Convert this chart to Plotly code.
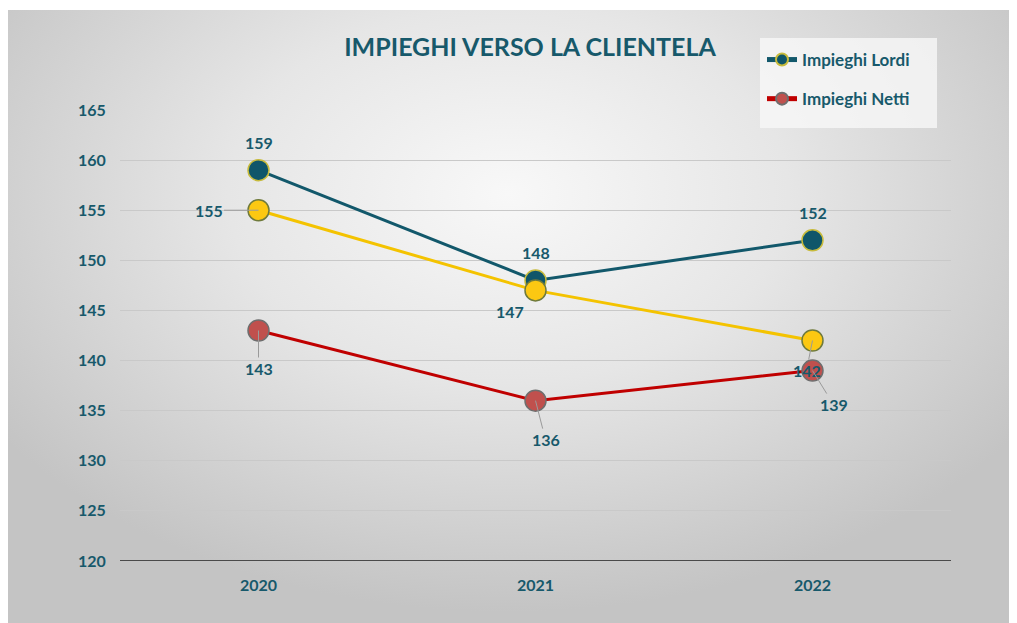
import base64
import plotly.graph_objects as go

# ---------------- data ----------------
years = ["2020", "2021", "2022"]
lordi = [159, 148, 152]
third = [155, 147, 142]
netti = [143, 136, 139]
y_ticks = [120, 125, 130, 135, 140, 145, 150, 155, 160, 165]
title_text = "IMPIEGHI VERSO LA CLIENTELA"

# ---------------- style ----------------
OFF = 8  # page body margin in the browser
W, H = 1017 - OFF, 623 - OFF
L, T = 120 - OFF, 110 - OFF
R = W - (951 - OFF)
B = H - (561 - OFF)
TEAL = "#17596b"
FONT = "Lato"

fig = go.Figure()

fig.add_trace(go.Scatter(
    x=years, y=lordi, name="Impieghi Lordi", mode="lines+markers",
    line=dict(color="#12586b", width=3),
    marker=dict(size=21, color="#0f566a", line=dict(color="#c8bb3c", width=1.5)),
    legendgroup="a"))
fig.add_trace(go.Scatter(
    x=years, y=third, name="", mode="lines+markers", showlegend=False,
    line=dict(color="#f4c300", width=3),
    marker=dict(size=21, color="#fcc812", line=dict(color="#6f7a3c", width=1.5))))
fig.add_trace(go.Scatter(
    x=years, y=netti, name="Impieghi Netti", mode="lines+markers",
    line=dict(color="#c00000", width=3),
    marker=dict(size=21, color="#c0504d", line=dict(color="#6e6e6e", width=1.5)),
    legendgroup="b"))

lab_font = dict(family=FONT, size=16, color=TEAL, weight="bold")

# labels: Lordi above
for i, yv in enumerate(lordi):
    fig.add_annotation(x=i, y=yv, text=str(yv), showarrow=False, yshift=28, font=lab_font)

# third series labels
third_off = [(-50, 0, True), (-26, 21, False), (-6, 30, True)]
for i, (yv, (ax, ay, arr)) in enumerate(zip(third, third_off)):
    if arr:
        fig.add_annotation(x=i, y=yv, text=str(yv), showarrow=True, ax=ax, ay=ay,
                           arrowhead=0, arrowwidth=1, arrowcolor="#9a9a9a", font=lab_font)
    else:
        fig.add_annotation(x=i, y=yv, text=str(yv), showarrow=False,
                           xshift=ax, yshift=-ay, font=lab_font)

netti_off = [(0, 38), (10, 39), (21, 34)]
for i, (yv, (ax, ay)) in enumerate(zip(netti, netti_off)):
    fig.add_annotation(x=i, y=yv, text=str(yv), showarrow=True, ax=ax, ay=ay,
                       arrowhead=0, arrowwidth=1, arrowcolor="#9a9a9a", font=lab_font)

# gradient background panel (svg)
svg = """<svg xmlns='http://www.w3.org/2000/svg' width='1004' height='613' viewBox='0 0 1004 613' preserveAspectRatio='none'>
<defs><radialGradient id='g' cx='0.5' cy='0.3' r='0.62' gradientTransform='translate(0.5 0.3) scale(1 1.1) translate(-0.5 -0.3)'>
<stop offset='0' stop-color='#f8f8f8'/><stop offset='0.45' stop-color='#e6e6e6'/><stop offset='1' stop-color='#c4c4c4'/></radialGradient></defs>
<rect width='1004' height='613' fill='url(#g)'/></svg>"""
src = "data:image/svg+xml;base64," + base64.b64encode(svg.encode()).decode()
pw, ph = W - L - R, H - T - B
px0, py0, px1, py1 = 6 - OFF, 10 - OFF, 1010 - OFF, 623 - OFF
fig.add_layout_image(dict(
    source=src, xref="paper", yref="paper",
    x=(px0 - L) / pw, y=1 + (T - py0) / ph,
    sizex=(px1 - px0) / pw, sizey=(py1 - py0) / ph,
    sizing="stretch", layer="below", xanchor="left", yanchor="top"))


def to_px(xp, yp):
    return (xp - OFF - L) / pw, 1 + (T - (yp - OFF)) / ph


# legend backdrop box
lx0, ly0 = to_px(760, 38)
lx1, ly1 = to_px(937, 128)
fig.add_shape(type="rect", xref="paper", yref="paper", x0=lx0, x1=lx1, y0=ly1, y1=ly0,
              fillcolor="rgba(248,248,248,0.8)", line=dict(width=0), layer="below")

lgx, lgy = to_px(762, 42)
fig.update_layout(
    width=W, height=H,
    margin=dict(l=L, r=R, t=T, b=B, autoexpand=False),
    paper_bgcolor="white", plot_bgcolor="rgba(0,0,0,0)",
    title=dict(text=title_text, x=(530 - OFF - L) / pw, xref="paper", xanchor="center",
               y=1 - (47 - OFF) / H, yanchor="middle",
               font=dict(family=FONT, size=25, color=TEAL, weight="bold")),
    legend=dict(x=lgx, y=lgy, xanchor="left", yanchor="top",
                bgcolor="rgba(0,0,0,0)", tracegroupgap=14,
                traceorder="grouped", itemsizing="constant",
                font=dict(family=FONT, size=17, color=TEAL, weight="bold")),
    showlegend=True,
)
fig.update_xaxes(type="category", range=[-0.5, 2.5], showgrid=False, showline=False,
                 zeroline=False, ticks="outside", ticklen=10, tickcolor="rgba(0,0,0,0)",
                 automargin=False,
                 tickfont=dict(family=FONT, size=16, color=TEAL, weight="bold"))
fig.update_yaxes(range=[120, 165], tickvals=y_ticks, showgrid=True, gridcolor="#c9c9c9",
                 gridwidth=1, zeroline=False, showline=False, automargin=False,
                 ticks="outside", ticklen=10, tickcolor="rgba(0,0,0,0)",
                 tickfont=dict(family=FONT, size=16, color=TEAL, weight="bold"))
fig.add_hline(y=120, line=dict(color="#4a4a4a", width=2), layer="below")

fig.write_html("out.html")
